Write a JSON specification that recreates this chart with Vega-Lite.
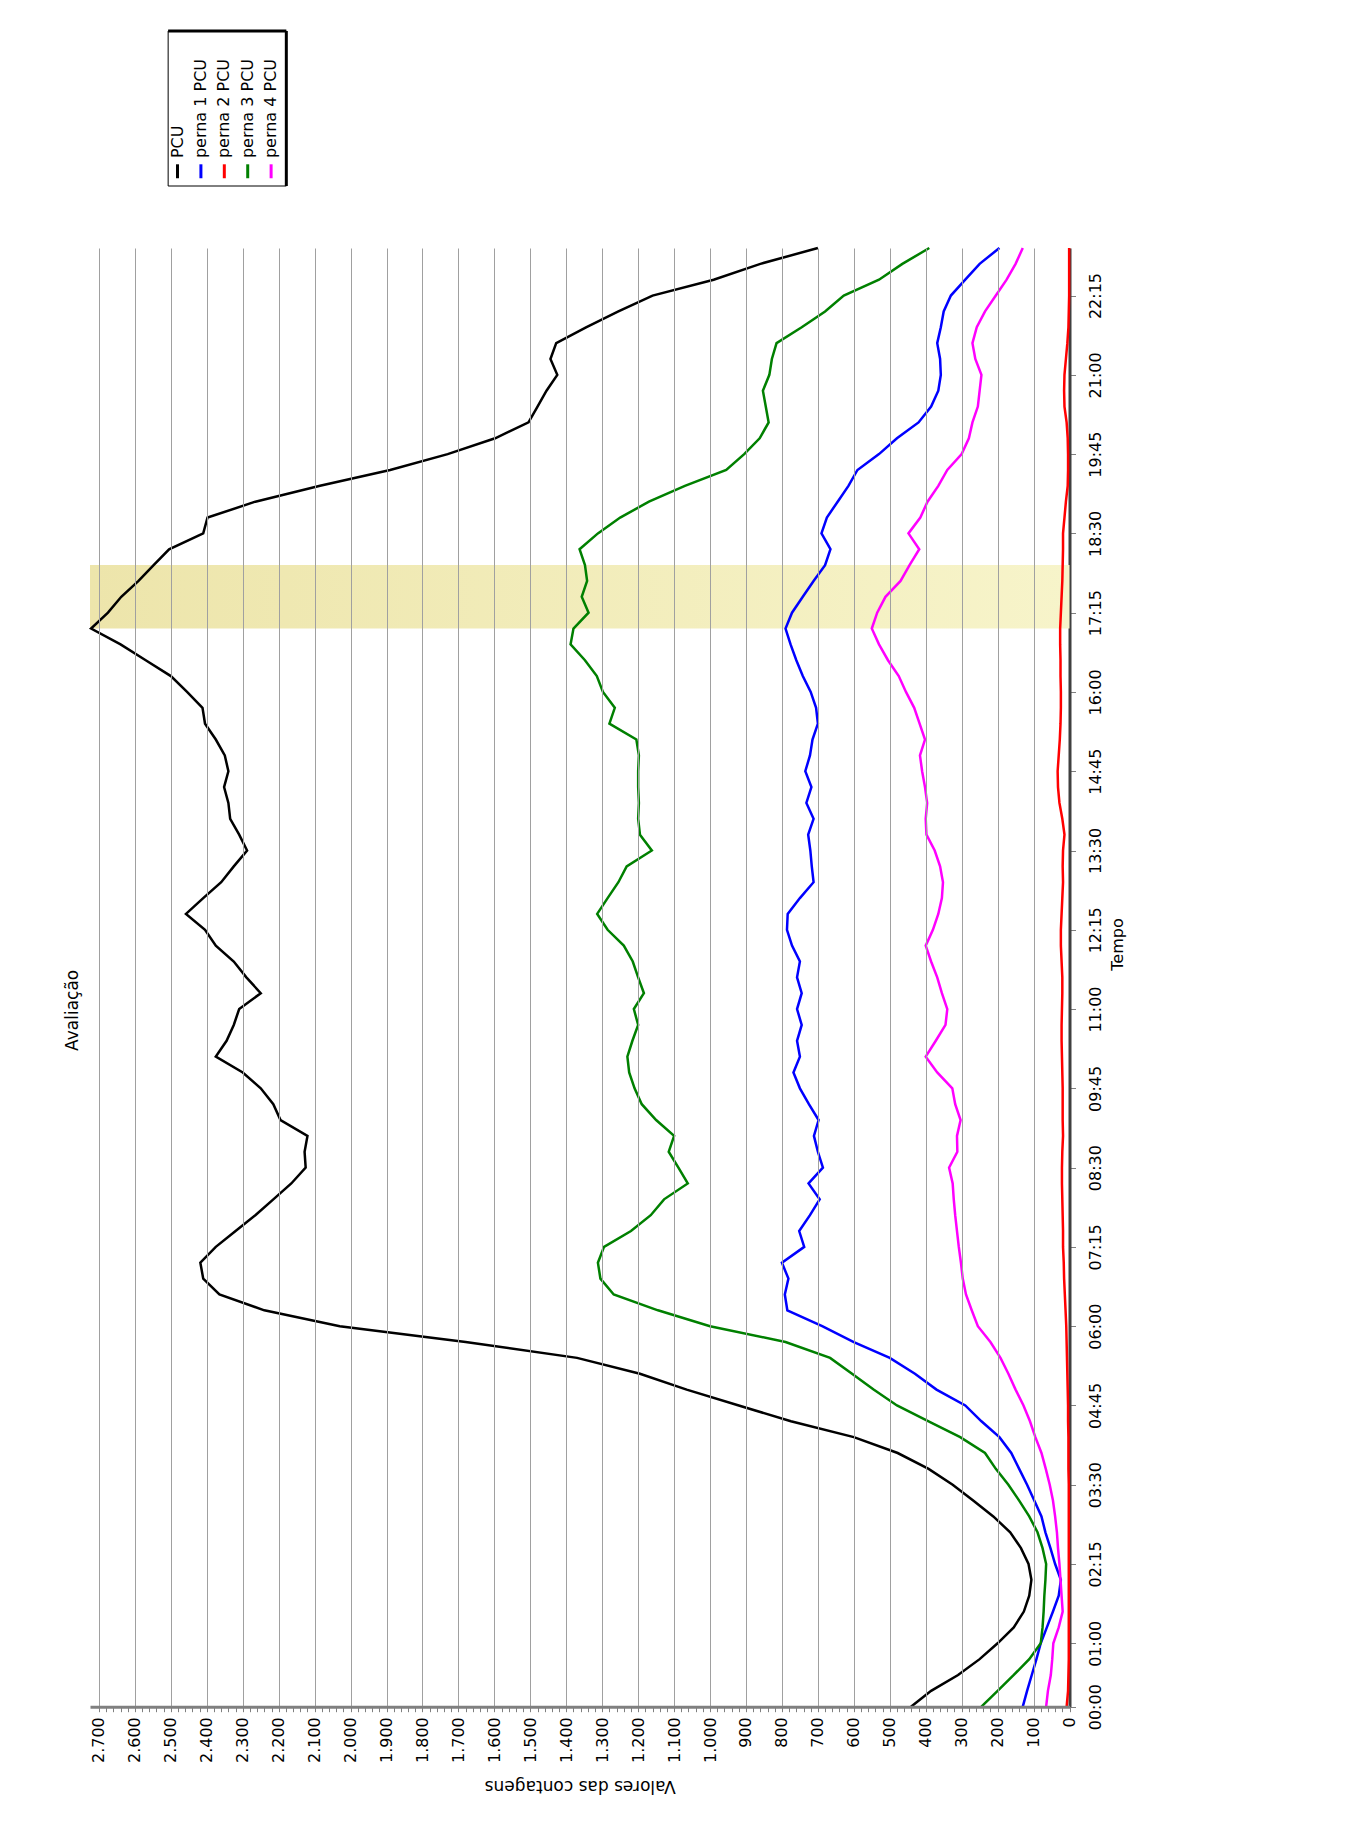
{
  "$schema": "https://vega.github.io/schema/vega-lite/v6.json",
  "background": "white",
  "padding": {"left": 64, "top": 29, "right": 10, "bottom": 10},
  "config": {
    "font": "DejaVu Sans",
    "view": {"stroke": null},
    "axis": {"labelFont": "DejaVu Sans", "titleFont": "DejaVu Sans", "labelColor": "black", "titleColor": "black", "titleFontWeight": "normal", "labelOverlap": false},
    "title": {"font": "DejaVu Sans", "fontWeight": "normal", "color": "black"}
  },
  "datasets": {
    "legenda": [
      {"serie": "PCU", "ordem": 1},
      {"serie": "perna 1 PCU", "ordem": 2},
      {"serie": "perna 2 PCU", "ordem": 3},
      {"serie": "perna 3 PCU", "ordem": 4},
      {"serie": "perna 4 PCU", "ordem": 5}
    ]
  },
  "spacing": 55,
  "resolve": {"scale": {"x": "independent", "y": "independent"}},
  "vconcat": [
    {
      "width": 979.5,
      "height": 155,
      "layer": [
        {
          "data": {"values": [{}]},
          "mark": {"type": "rect", "fill": "white", "stroke": "black", "strokeWidth": 1},
          "encoding": {
            "x": {"datum": 0.6, "type": "quantitative", "scale": {"domain": [-2.74, 39.12], "nice": false, "zero": false}, "axis": null},
            "x2": {"datum": 5.65},
            "y": {"datum": 0, "type": "quantitative", "scale": {"domain": [0, 1], "nice": false, "zero": false}, "axis": null},
            "y2": {"datum": 1}
          }
        },
        {
          "data": {"values": [{}]},
          "mark": {"type": "rule", "strokeWidth": 3, "color": "black"},
          "encoding": {
            "x": {"datum": 5.65, "type": "quantitative"},
            "y": {"datum": 0, "type": "quantitative"},
            "y2": {"datum": 1}
          }
        },
        {
          "data": {"values": [{}]},
          "mark": {"type": "rule", "strokeWidth": 3, "color": "black"},
          "encoding": {
            "x": {"datum": 0.6, "type": "quantitative"},
            "x2": {"datum": 5.65},
            "y": {"datum": 1, "type": "quantitative"}
          }
        },
        {
          "data": {"name": "legenda"},
          "mark": {"type": "rule", "strokeWidth": 3},
          "encoding": {
            "x": {"field": "ordem", "type": "quantitative"},
            "y": {"datum": 0.05, "type": "quantitative"},
            "y2": {"datum": 0.14},
            "color": {"field": "serie", "type": "nominal", "legend": null}
          }
        },
        {
          "data": {"name": "legenda"},
          "mark": {"type": "text", "angle": 270, "align": "left", "baseline": "middle", "fontSize": 16, "color": "black"},
          "encoding": {
            "x": {"field": "ordem", "type": "quantitative"},
            "y": {"datum": 0.18, "type": "quantitative"},
            "text": {"field": "serie"}
          }
        }
      ]
    },
    {
      "width": 979.5,
      "height": 1458.7,
      "title": {"text": "Avaliação", "orient": "left", "anchor": "middle", "fontSize": 17, "offset": 4, "dx": -33},
      "layer": [
        {
          "data": {"values": [{"ini": 1020, "fim": 1080}]},
          "mark": {"type": "rect", "color": {"gradient": "linear", "x1": 0, "y1": 0, "x2": 1, "y2": 0, "stops": [{"offset": 0, "color": "#EDE5AB"}, {"offset": 1, "color": "#F7F4CA"}]}},
          "encoding": {
            "y": {"field": "ini", "type": "quantitative", "title": "Tempo", "scale": {"domain": [0, 1380], "nice": false, "zero": false}},
            "y2": {"field": "fim"}
          }
        },
        {
          "data": {
            "values": [
              {"min": 0, "PCU": 441, "perna 1 PCU": 130, "perna 2 PCU": 8, "perna 3 PCU": 245, "perna 4 PCU": 65},
              {"min": 15, "PCU": 385, "perna 1 PCU": 118, "perna 2 PCU": 4, "perna 3 PCU": 200, "perna 4 PCU": 60},
              {"min": 30, "PCU": 310, "perna 1 PCU": 105, "perna 2 PCU": 3, "perna 3 PCU": 155, "perna 4 PCU": 52},
              {"min": 45, "PCU": 250, "perna 1 PCU": 92, "perna 2 PCU": 2, "perna 3 PCU": 112, "perna 4 PCU": 48},
              {"min": 60, "PCU": 200, "perna 1 PCU": 80, "perna 2 PCU": 2, "perna 3 PCU": 80, "perna 4 PCU": 45},
              {"min": 75, "PCU": 155, "perna 1 PCU": 63, "perna 2 PCU": 2, "perna 3 PCU": 75, "perna 4 PCU": 30},
              {"min": 90, "PCU": 127, "perna 1 PCU": 46, "perna 2 PCU": 2, "perna 3 PCU": 72, "perna 4 PCU": 19},
              {"min": 105, "PCU": 112, "perna 1 PCU": 30, "perna 2 PCU": 2, "perna 3 PCU": 70, "perna 4 PCU": 22},
              {"min": 120, "PCU": 106, "perna 1 PCU": 24, "perna 2 PCU": 2, "perna 3 PCU": 67, "perna 4 PCU": 25},
              {"min": 135, "PCU": 114, "perna 1 PCU": 40, "perna 2 PCU": 2, "perna 3 PCU": 65, "perna 4 PCU": 28},
              {"min": 150, "PCU": 135, "perna 1 PCU": 53, "perna 2 PCU": 2, "perna 3 PCU": 75, "perna 4 PCU": 32},
              {"min": 165, "PCU": 165, "perna 1 PCU": 67, "perna 2 PCU": 2, "perna 3 PCU": 89, "perna 4 PCU": 35},
              {"min": 180, "PCU": 212, "perna 1 PCU": 78, "perna 2 PCU": 2, "perna 3 PCU": 112, "perna 4 PCU": 40},
              {"min": 195, "PCU": 268, "perna 1 PCU": 98, "perna 2 PCU": 2, "perna 3 PCU": 140, "perna 4 PCU": 46},
              {"min": 210, "PCU": 325, "perna 1 PCU": 118, "perna 2 PCU": 2, "perna 3 PCU": 170, "perna 4 PCU": 55},
              {"min": 225, "PCU": 392, "perna 1 PCU": 140, "perna 2 PCU": 3, "perna 3 PCU": 205, "perna 4 PCU": 66},
              {"min": 240, "PCU": 478, "perna 1 PCU": 162, "perna 2 PCU": 3, "perna 3 PCU": 235, "perna 4 PCU": 78},
              {"min": 255, "PCU": 600, "perna 1 PCU": 195, "perna 2 PCU": 3, "perna 3 PCU": 304, "perna 4 PCU": 95},
              {"min": 270, "PCU": 775, "perna 1 PCU": 245, "perna 2 PCU": 4, "perna 3 PCU": 392, "perna 4 PCU": 110},
              {"min": 285, "PCU": 920, "perna 1 PCU": 290, "perna 2 PCU": 4, "perna 3 PCU": 480, "perna 4 PCU": 128},
              {"min": 300, "PCU": 1065, "perna 1 PCU": 370, "perna 2 PCU": 5, "perna 3 PCU": 545, "perna 4 PCU": 150},
              {"min": 315, "PCU": 1195, "perna 1 PCU": 430, "perna 2 PCU": 6, "perna 3 PCU": 605, "perna 4 PCU": 170},
              {"min": 330, "PCU": 1370, "perna 1 PCU": 500, "perna 2 PCU": 7, "perna 3 PCU": 666, "perna 4 PCU": 192},
              {"min": 345, "PCU": 1680, "perna 1 PCU": 600, "perna 2 PCU": 8, "perna 3 PCU": 790, "perna 4 PCU": 220},
              {"min": 360, "PCU": 2030, "perna 1 PCU": 688, "perna 2 PCU": 9, "perna 3 PCU": 1000, "perna 4 PCU": 255},
              {"min": 375, "PCU": 2240, "perna 1 PCU": 785, "perna 2 PCU": 11, "perna 3 PCU": 1145, "perna 4 PCU": 272},
              {"min": 390, "PCU": 2365, "perna 1 PCU": 792, "perna 2 PCU": 13, "perna 3 PCU": 1268, "perna 4 PCU": 288},
              {"min": 405, "PCU": 2410, "perna 1 PCU": 782, "perna 2 PCU": 15, "perna 3 PCU": 1305, "perna 4 PCU": 297},
              {"min": 420, "PCU": 2418, "perna 1 PCU": 800, "perna 2 PCU": 16, "perna 3 PCU": 1312, "perna 4 PCU": 302},
              {"min": 435, "PCU": 2375, "perna 1 PCU": 738, "perna 2 PCU": 18, "perna 3 PCU": 1295, "perna 4 PCU": 308},
              {"min": 450, "PCU": 2320, "perna 1 PCU": 752, "perna 2 PCU": 18, "perna 3 PCU": 1220, "perna 4 PCU": 313},
              {"min": 465, "PCU": 2265, "perna 1 PCU": 722, "perna 2 PCU": 19, "perna 3 PCU": 1165, "perna 4 PCU": 318},
              {"min": 480, "PCU": 2215, "perna 1 PCU": 695, "perna 2 PCU": 20, "perna 3 PCU": 1128, "perna 4 PCU": 322},
              {"min": 495, "PCU": 2165, "perna 1 PCU": 726, "perna 2 PCU": 21, "perna 3 PCU": 1062, "perna 4 PCU": 325},
              {"min": 510, "PCU": 2125, "perna 1 PCU": 686, "perna 2 PCU": 21, "perna 3 PCU": 1088, "perna 4 PCU": 335},
              {"min": 525, "PCU": 2128, "perna 1 PCU": 700, "perna 2 PCU": 20, "perna 3 PCU": 1115, "perna 4 PCU": 312},
              {"min": 540, "PCU": 2120, "perna 1 PCU": 711, "perna 2 PCU": 18, "perna 3 PCU": 1100, "perna 4 PCU": 313},
              {"min": 555, "PCU": 2195, "perna 1 PCU": 698, "perna 2 PCU": 19, "perna 3 PCU": 1150, "perna 4 PCU": 303},
              {"min": 570, "PCU": 2215, "perna 1 PCU": 725, "perna 2 PCU": 19, "perna 3 PCU": 1190, "perna 4 PCU": 318},
              {"min": 585, "PCU": 2250, "perna 1 PCU": 750, "perna 2 PCU": 19, "perna 3 PCU": 1210, "perna 4 PCU": 326},
              {"min": 600, "PCU": 2300, "perna 1 PCU": 768, "perna 2 PCU": 20, "perna 3 PCU": 1225, "perna 4 PCU": 368},
              {"min": 615, "PCU": 2375, "perna 1 PCU": 750, "perna 2 PCU": 21, "perna 3 PCU": 1230, "perna 4 PCU": 400},
              {"min": 630, "PCU": 2345, "perna 1 PCU": 758, "perna 2 PCU": 22, "perna 3 PCU": 1216, "perna 4 PCU": 372},
              {"min": 645, "PCU": 2325, "perna 1 PCU": 745, "perna 2 PCU": 22, "perna 3 PCU": 1200, "perna 4 PCU": 345},
              {"min": 660, "PCU": 2310, "perna 1 PCU": 758, "perna 2 PCU": 21, "perna 3 PCU": 1212, "perna 4 PCU": 340},
              {"min": 675, "PCU": 2250, "perna 1 PCU": 745, "perna 2 PCU": 20, "perna 3 PCU": 1184, "perna 4 PCU": 355},
              {"min": 690, "PCU": 2290, "perna 1 PCU": 758, "perna 2 PCU": 20, "perna 3 PCU": 1200, "perna 4 PCU": 368},
              {"min": 705, "PCU": 2325, "perna 1 PCU": 750, "perna 2 PCU": 22, "perna 3 PCU": 1215, "perna 4 PCU": 385},
              {"min": 720, "PCU": 2375, "perna 1 PCU": 772, "perna 2 PCU": 24, "perna 3 PCU": 1240, "perna 4 PCU": 400},
              {"min": 735, "PCU": 2405, "perna 1 PCU": 786, "perna 2 PCU": 24, "perna 3 PCU": 1285, "perna 4 PCU": 380},
              {"min": 750, "PCU": 2458, "perna 1 PCU": 784, "perna 2 PCU": 22, "perna 3 PCU": 1314, "perna 4 PCU": 365},
              {"min": 765, "PCU": 2410, "perna 1 PCU": 750, "perna 2 PCU": 20, "perna 3 PCU": 1285, "perna 4 PCU": 355},
              {"min": 780, "PCU": 2360, "perna 1 PCU": 712, "perna 2 PCU": 18, "perna 3 PCU": 1255, "perna 4 PCU": 352},
              {"min": 795, "PCU": 2325, "perna 1 PCU": 717, "perna 2 PCU": 19, "perna 3 PCU": 1232, "perna 4 PCU": 360},
              {"min": 810, "PCU": 2288, "perna 1 PCU": 721, "perna 2 PCU": 18, "perna 3 PCU": 1162, "perna 4 PCU": 375},
              {"min": 825, "PCU": 2310, "perna 1 PCU": 727, "perna 2 PCU": 14, "perna 3 PCU": 1195, "perna 4 PCU": 398},
              {"min": 840, "PCU": 2335, "perna 1 PCU": 712, "perna 2 PCU": 20, "perna 3 PCU": 1200, "perna 4 PCU": 400},
              {"min": 855, "PCU": 2340, "perna 1 PCU": 732, "perna 2 PCU": 28, "perna 3 PCU": 1198, "perna 4 PCU": 396},
              {"min": 870, "PCU": 2352, "perna 1 PCU": 718, "perna 2 PCU": 32, "perna 3 PCU": 1200, "perna 4 PCU": 402},
              {"min": 885, "PCU": 2340, "perna 1 PCU": 735, "perna 2 PCU": 33, "perna 3 PCU": 1200, "perna 4 PCU": 410},
              {"min": 900, "PCU": 2350, "perna 1 PCU": 722, "perna 2 PCU": 30, "perna 3 PCU": 1198, "perna 4 PCU": 416},
              {"min": 915, "PCU": 2375, "perna 1 PCU": 715, "perna 2 PCU": 27, "perna 3 PCU": 1205, "perna 4 PCU": 402},
              {"min": 930, "PCU": 2405, "perna 1 PCU": 700, "perna 2 PCU": 25, "perna 3 PCU": 1280, "perna 4 PCU": 417},
              {"min": 945, "PCU": 2412, "perna 1 PCU": 705, "perna 2 PCU": 24, "perna 3 PCU": 1265, "perna 4 PCU": 432},
              {"min": 960, "PCU": 2455, "perna 1 PCU": 720, "perna 2 PCU": 24, "perna 3 PCU": 1298, "perna 4 PCU": 455},
              {"min": 975, "PCU": 2500, "perna 1 PCU": 742, "perna 2 PCU": 25, "perna 3 PCU": 1315, "perna 4 PCU": 475},
              {"min": 990, "PCU": 2570, "perna 1 PCU": 760, "perna 2 PCU": 25, "perna 3 PCU": 1348, "perna 4 PCU": 505},
              {"min": 1005, "PCU": 2640, "perna 1 PCU": 776, "perna 2 PCU": 26, "perna 3 PCU": 1388, "perna 4 PCU": 530},
              {"min": 1020, "PCU": 2722, "perna 1 PCU": 790, "perna 2 PCU": 26, "perna 3 PCU": 1380, "perna 4 PCU": 550},
              {"min": 1035, "PCU": 2675, "perna 1 PCU": 772, "perna 2 PCU": 24, "perna 3 PCU": 1338, "perna 4 PCU": 535},
              {"min": 1050, "PCU": 2638, "perna 1 PCU": 742, "perna 2 PCU": 22, "perna 3 PCU": 1357, "perna 4 PCU": 512},
              {"min": 1065, "PCU": 2590, "perna 1 PCU": 712, "perna 2 PCU": 20, "perna 3 PCU": 1342, "perna 4 PCU": 470},
              {"min": 1080, "PCU": 2548, "perna 1 PCU": 680, "perna 2 PCU": 19, "perna 3 PCU": 1348, "perna 4 PCU": 445},
              {"min": 1095, "PCU": 2505, "perna 1 PCU": 665, "perna 2 PCU": 18, "perna 3 PCU": 1363, "perna 4 PCU": 418},
              {"min": 1110, "PCU": 2410, "perna 1 PCU": 690, "perna 2 PCU": 18, "perna 3 PCU": 1312, "perna 4 PCU": 448},
              {"min": 1125, "PCU": 2398, "perna 1 PCU": 675, "perna 2 PCU": 14, "perna 3 PCU": 1250, "perna 4 PCU": 415},
              {"min": 1140, "PCU": 2265, "perna 1 PCU": 645, "perna 2 PCU": 10, "perna 3 PCU": 1170, "perna 4 PCU": 395},
              {"min": 1155, "PCU": 2085, "perna 1 PCU": 615, "perna 2 PCU": 5, "perna 3 PCU": 1070, "perna 4 PCU": 365},
              {"min": 1170, "PCU": 1890, "perna 1 PCU": 590, "perna 2 PCU": 4, "perna 3 PCU": 955, "perna 4 PCU": 340},
              {"min": 1185, "PCU": 1730, "perna 1 PCU": 530, "perna 2 PCU": 4, "perna 3 PCU": 905, "perna 4 PCU": 300},
              {"min": 1200, "PCU": 1598, "perna 1 PCU": 480, "perna 2 PCU": 5, "perna 3 PCU": 862, "perna 4 PCU": 280},
              {"min": 1215, "PCU": 1505, "perna 1 PCU": 420, "perna 2 PCU": 8, "perna 3 PCU": 837, "perna 4 PCU": 270},
              {"min": 1230, "PCU": 1480, "perna 1 PCU": 385, "perna 2 PCU": 14, "perna 3 PCU": 845, "perna 4 PCU": 255},
              {"min": 1245, "PCU": 1455, "perna 1 PCU": 365, "perna 2 PCU": 15, "perna 3 PCU": 853, "perna 4 PCU": 250},
              {"min": 1260, "PCU": 1425, "perna 1 PCU": 358, "perna 2 PCU": 14, "perna 3 PCU": 835, "perna 4 PCU": 245},
              {"min": 1275, "PCU": 1444, "perna 1 PCU": 360, "perna 2 PCU": 10, "perna 3 PCU": 828, "perna 4 PCU": 262},
              {"min": 1290, "PCU": 1428, "perna 1 PCU": 368, "perna 2 PCU": 6, "perna 3 PCU": 815, "perna 4 PCU": 270},
              {"min": 1305, "PCU": 1345, "perna 1 PCU": 358, "perna 2 PCU": 3, "perna 3 PCU": 745, "perna 4 PCU": 258},
              {"min": 1320, "PCU": 1255, "perna 1 PCU": 350, "perna 2 PCU": 2, "perna 3 PCU": 680, "perna 4 PCU": 235},
              {"min": 1335, "PCU": 1160, "perna 1 PCU": 330, "perna 2 PCU": 1, "perna 3 PCU": 628, "perna 4 PCU": 205},
              {"min": 1350, "PCU": 990, "perna 1 PCU": 290, "perna 2 PCU": 1, "perna 3 PCU": 530, "perna 4 PCU": 175},
              {"min": 1365, "PCU": 860, "perna 1 PCU": 250, "perna 2 PCU": 1, "perna 3 PCU": 465, "perna 4 PCU": 150},
              {"min": 1380, "PCU": 700, "perna 1 PCU": 195, "perna 2 PCU": 1, "perna 3 PCU": 390, "perna 4 PCU": 130}
            ]
          },
          "transform": [{"fold": ["PCU", "perna 1 PCU", "perna 2 PCU", "perna 3 PCU", "perna 4 PCU"], "as": ["serie", "valor"]}],
          "mark": {"type": "line", "orient": "vertical", "strokeWidth": 2.5},
          "encoding": {
            "order": {"field": "min", "type": "quantitative"},
            "x": {
              "field": "valor",
              "type": "quantitative",
              "scale": {"domain": [0, 2725], "reverse": true, "nice": false, "zero": true},
              "axis": {
                "orient": "bottom",
                "zindex": 1,
                "values": [0,20,40,60,80,100,120,140,160,180,200,220,240,260,280,300,320,340,360,380,400,420,440,460,480,500,520,540,560,580,600,620,640,660,680,700,720,740,760,780,800,820,840,860,880,900,920,940,960,980,1000,1020,1040,1060,1080,1100,1120,1140,1160,1180,1200,1220,1240,1260,1280,1300,1320,1340,1360,1380,1400,1420,1440,1460,1480,1500,1520,1540,1560,1580,1600,1620,1640,1660,1680,1700,1720,1740,1760,1780,1800,1820,1840,1860,1880,1900,1920,1940,1960,1980,2000,2020,2040,2060,2080,2100,2120,2140,2160,2180,2200,2220,2240,2260,2280,2300,2320,2340,2360,2380,2400,2420,2440,2460,2480,2500,2520,2540,2560,2580,2600,2620,2640,2660,2680,2700],
                "labelExpr": "datum.value % 100 === 0 ? replace(format(datum.value, ','), ',', '.') : ''",
                "labelAngle": 270,
                "labelAlign": "right",
                "labelBaseline": "middle",
                "labelFontSize": 16,
                "labelPadding": 5,
                "labelOverlap": false,
                "labelFlush": false,
                "tickColor": "#808080",
                "tickSize": 5,
                "domainColor": "#808080",
                "domainWidth": 3,
                "grid": true,
                "gridColor": "#A0A0A0",
                "gridWidth": 1,
                "gridOpacity": {"condition": {"test": "datum.value % 100 !== 0 || datum.value === 0", "value": 0}, "value": 1},
                "title": "Valores das contagens",
                "titleAngle": 180,
                "titleBaseline": "bottom",
                "titleFontSize": 17,
                "titlePadding": 14
              }
            },
            "y": {
              "field": "min",
              "type": "quantitative",
              "scale": {"domain": [0, 1380], "nice": false, "zero": false},
              "axis": {
                "orient": "right",
                "grid": false,
                "values": [0,60,135,210,285,360,435,510,585,660,735,810,885,960,1035,1110,1185,1260,1335],
                "labelExpr": "timeFormat(datetime(2000, 0, 1, 0, datum.value), '%H:%M')",
                "labelAngle": 270,
                "labelAlign": "center",
                "labelBaseline": "top",
                "labelFontSize": 16,
                "labelPadding": 12,
                "labelOverlap": false,
                "labelFlush": false,
                "tickColor": "#808080",
                "tickSize": 6,
                "domainColor": "#404040",
                "domainWidth": 3,
                "title": "Tempo",
                "titleAngle": 270,
                "titleBaseline": "top",
                "titleFontSize": 16,
                "titlePadding": 6,
                "titleY": 696
              }
            },
            "color": {
              "field": "serie",
              "type": "nominal",
              "scale": {"domain": ["PCU", "perna 1 PCU", "perna 2 PCU", "perna 3 PCU", "perna 4 PCU"], "range": ["#000000", "#0000FF", "#FF0000", "#008000", "#FF00FF"]},
              "legend": null
            }
          }
        }
      ]
    }
  ]
}
